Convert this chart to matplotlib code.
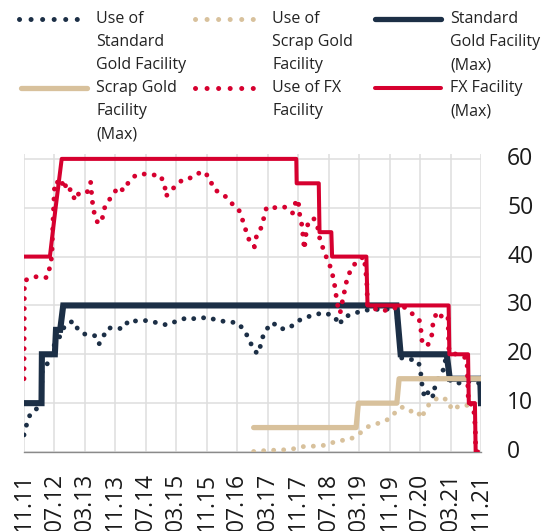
import numpy as np
import matplotlib
matplotlib.use("Agg")
import matplotlib.pyplot as plt

plt.rcParams["font.family"] = ["Open Sans", "DejaVu Sans"]

NAVY = "#1c2f46"
RED = "#d6002f"
TAN = "#d8c19c"
GRID = "#dedede"

# x = months since Nov 2011
tick_labels = ["11.11", "07.12", "03.13", "11.13", "07.14", "03.15", "11.15", "07.16",
               "03.17", "11.17", "07.18", "03.19", "11.19", "07.20", "03.21", "11.21"]
y_ticks = [0, 10, 20, 30, 40, 50, 60]

# facility maxima (path vertices)
fx_max_m = [0, 6.8, 8.3, 9.9, 71.5, 71.6, 77.4, 77.6, 80.7, 80.9, 89.9, 90.2,
            111.5, 111.7, 116.6, 116.8, 118.4, 118.6, 119.1]
fx_max_v = [40, 40, 50, 60, 60, 55, 55, 45, 45, 40, 40, 30,
            30, 20, 20, 10, 10, 0, 0]

std_max_m = [0, 4.6, 4.7, 8.1, 8.4, 9.5, 10.3, 97.8, 98.9, 111.0, 111.8, 119.8, 120]
std_max_v = [10, 10, 20, 20, 25, 25, 30, 30, 20, 20, 15, 15, 10]

scrap_max_m = [60.3, 87.2, 87.8, 97.9, 98.5, 120]
scrap_max_v = [5, 5, 10, 10, 15, 15]

# usage series
fx_use_m = [0.0, 0.1, 1.0, 3.3, 6.0, 6.7, 7.3, 7.6, 8.0, 8.6, 9.5, 10.6, 11.2, 12.3,
            13.4, 14.3, 16.5, 17.5, 17.9, 18.6, 19.5, 20.6, 21.3, 23.0, 24.8, 26.1,
            27.6, 29.4, 31.6, 33.8, 35.7, 36.9, 37.3, 38.0, 39.5, 41.7, 44.3, 46.7,
            48.7, 49.7, 51.5, 52.9, 54.1, 56.4, 57.3, 58.2, 59.5, 60.5, 61.1, 62.0,
            62.9, 63.7, 65.5, 68.3, 70.5, 71.4, 72.0, 72.3, 73.0, 73.6, 74.3, 76.0,
            77.0, 77.6, 78.8, 80.6, 81.4, 82.3, 83.0, 83.6, 84.9, 86.2, 87.8, 89.3,
            90.0, 90.2, 91.6, 94.4, 96.8, 99.6, 101.8, 103.8, 104.3, 104.6, 106.1,
            107.1, 107.4, 108.4, 109.6, 111.3, 111.6, 113.5, 116.3, 116.7, 118.0,
            118.5, 118.6, 119.1]
fx_use_v = [15, 35, 35.4, 35.9, 35.7, 37.6, 40, 47, 54, 55.5, 54.2, 55.7, 53.3, 53.8,
            51.5, 52.8, 53, 55.2, 51.5, 48.2, 46.7, 48, 50.4, 52.3, 54.3, 53.5,
            55.4, 56.7, 56.9, 56.7, 56.7, 54.9, 52.3, 53.2, 54.2, 55.8, 56.2, 57.5,
            56.3, 53.9, 53, 52.3, 51.2, 49.6, 47.7, 45.5, 42.5, 42, 44.4, 45.3,
            47.7, 50.1, 50, 50.2, 48.9, 51.3, 51.7, 49, 46.3, 41.5, 46.3, 47.9,
            46.5, 43.9, 41, 37.6, 35, 30.2, 28.4, 30.8, 35.7, 37.9, 39.3, 40,
            35, 30, 29.4, 28.9, 29.4, 29.8, 28.4, 27, 24.6, 22, 22,
            24, 26.4, 28.7, 27.8, 28, 20.5, 20, 19.2, 10, 9.6,
            5, 0.3, 0]

std_use_m = [0.0, 1.1, 2.2, 4.5, 4.8, 6.4, 8.0, 8.6, 9.3, 10.8, 12.9, 14.4, 16.3,
             18.6, 19.7, 20.6, 21.9, 23.6, 25.9, 27.6, 29.5, 32.0, 34.7, 37.5, 40.1,
             42.9, 45.4, 48.0, 50.6, 53.5, 56.0, 58.0, 59.3, 60.7, 61.7, 62.3, 63.3,
             65.3, 67.2, 69.6, 71.6, 73.5, 76.2, 78.8, 81.5, 82.8, 83.9, 86.2, 88.7,
             91.6, 94.2, 96.8, 97.7, 98.5, 99.2, 101.4, 103.6, 104.2, 104.6, 105.2,
             106.5, 107.5, 107.8, 109.3, 110.1, 110.6, 111.5, 112.0, 114.4, 117.2, 120.0]
std_use_v = [3.5, 6.9, 8.4, 9.3, 17, 18.3, 22, 24.6, 23.5, 26, 26.8, 24.8, 24,
             23.8, 22.1, 23.3, 25.3, 25.5, 25.2, 27, 26.8, 26.9, 26.5, 26, 26.8,
             27.5, 27.2, 27.6, 27, 26.6, 26.5, 24.8, 22.6, 20.5, 20.2, 22.7, 24.8,
             26.5, 25.2, 25.3, 26.7, 27.4, 28.1, 28.5, 27.8, 26, 27.6, 28.2, 28.9,
             29.2, 29.2, 29.3, 29.6, 24, 19.2, 19, 18.5, 16, 13.2, 11.1,
             12.7, 11.3, 13, 16.2, 16.8, 18.7, 16.4, 14.4, 14.1, 14.5, 14]

scrap_use_m = [60.3, 63.5, 66.8, 69.9, 73.1, 76.2, 79.3, 82.3, 85.4, 87.8, 90.4, 93.1,
               95.7, 97.5, 99.2, 101.0, 103.1, 104.5, 105.2, 106.9, 109.3, 111.5,
               112.3, 114.7, 117.6, 118.6]
scrap_use_v = [0.1, 0.3, 0.4, 0.5, 1.1, 1.2, 1.4, 2.3, 2.5, 3.6, 5.2, 5.9,
               6.7, 8.1, 9.2, 8.3, 8.5, 6.9, 8.5, 10.3, 11.3, 10.5,
               8.6, 9.6, 9.5, 9.2]

W, H = 544, 531
fig = plt.figure(figsize=(W / 100, H / 100), dpi=100)

# legend drawn in pixel coords (behind main axes)
lax = fig.add_axes([0, 0, 1, 1])
lax.set_xlim(0, W)
lax.set_ylim(H, 0)
lax.axis("off")

# main axes in pixel layout
left, right, bottom, top = 24, 481, 452, 154
ax = fig.add_axes([left / W, 1 - bottom / H, (right - left) / W, (bottom - top) / H])
ax.patch.set_alpha(0)

dot = dict(linestyle=(0, (0.01, 2.05)), dash_capstyle="round", lw=3.5)

ax.plot(std_max_m, std_max_v, color=NAVY, lw=4.4, solid_joinstyle="miter", zorder=3)
ax.plot(std_use_m, std_use_v, color=NAVY, zorder=4, **dot)
ax.plot(scrap_max_m, scrap_max_v, color=TAN, lw=3.8, solid_capstyle="round", zorder=5)
ax.plot(scrap_use_m, scrap_use_v, color=TAN, zorder=6, **dot)
ax.plot(fx_max_m, fx_max_v, color=RED, lw=2.9, zorder=7)
ax.plot(fx_use_m, fx_use_v, color=RED, zorder=8, **dot)

ax.set_xlim(0, 120)
ax.set_ylim(0, 61)
ax.set_xticks(np.arange(0, 121, 8))
ax.set_xticklabels(tick_labels, rotation=90, fontsize=16.5, color="#1a1a1a")
ax.xaxis.set_tick_params(which="major", length=0, pad=15)
ax.set_yticks(y_ticks)
ax.set_yticklabels([])
ax.yaxis.set_tick_params(which="major", length=0)
ax.grid(True, color=GRID, lw=1.1)
ax.set_axisbelow(True)
for s in ["top", "left", "right"]:
    ax.spines[s].set_visible(False)
ax.spines["bottom"].set_color("#8a8a8a")
ax.spines["bottom"].set_linewidth(1.0)
ax.spines["bottom"].set_zorder(2)

# y labels on the right, left-aligned ~26 px from the plot edge
ytr = ax.get_yaxis_transform()
for v in y_ticks:
    ax.text(1.057, v, str(v), transform=ytr, ha="left", va="center",
            fontsize=16.5, color="#1a1a1a", clip_on=False)

entries = [
    (19, 19, NAVY, "dot", "Use of\nStandard\nGold Facility"),
    (195, 19, TAN, "dot", "Use of\nScrap Gold\nFacility"),
    (373, 19, NAVY, "solid", "Standard\nGold Facility\n(Max)"),
    (19, 88, TAN, "solid", "Scrap Gold\nFacility\n(Max)"),
    (195, 88, RED, "dot", "Use of FX\nFacility"),
    (373, 88, RED, "solid", "FX Facility\n(Max)"),
]
for x0, y0, c, kind, label in entries:
    if kind == "dot":
        lax.plot([x0, x0 + 69], [y0, y0], color=c, linestyle=(0, (0.01, 2.3)),
                 dash_capstyle="round", lw=3.6)
    else:
        lw = 2.9 if c == RED else 3.8
        lax.plot([x0 + 2, x0 + 68], [y0, y0], color=c, lw=lw, solid_capstyle="round")
    lax.text(x0 + 77, y0 - 8, label, fontsize=11.5, color="#222222",
             va="top", ha="left", linespacing=1.6)

fig.savefig("out.png", dpi=100)
